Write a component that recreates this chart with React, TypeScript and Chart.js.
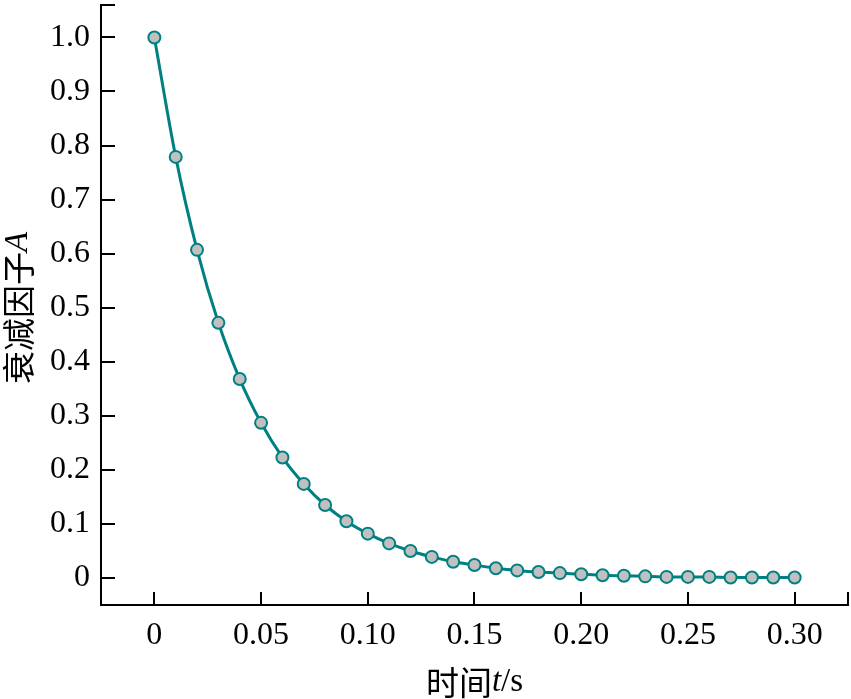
import React, { useEffect, useRef } from "react";
import { Chart, registerables } from "chart.js";

Chart.register(...registerables);

const timeValues = [
  0, 0.01, 0.02, 0.03, 0.04, 0.05, 0.06, 0.07, 0.08, 0.09, 0.1, 0.11, 0.12, 0.13, 0.14, 0.15,
  0.16, 0.17, 0.18, 0.19, 0.2, 0.21, 0.22, 0.23, 0.24, 0.25, 0.26, 0.27, 0.28, 0.29, 0.3,
];
const decayValues = [
  1.0, 0.779, 0.607, 0.472, 0.368, 0.287, 0.223, 0.174, 0.135, 0.105, 0.082, 0.064, 0.05, 0.039,
  0.03, 0.024, 0.018, 0.014, 0.011, 0.009, 0.007, 0.005, 0.004, 0.003, 0.002, 0.002, 0.002,
  0.001, 0.001, 0.001, 0.001,
];
const xTickValues = [0, 0.05, 0.1, 0.15, 0.2, 0.25, 0.3];
const xTickLabels = ["0", "0.05", "0.10", "0.15", "0.20", "0.25", "0.30"];
const yTickValues = [0, 0.1, 0.2, 0.3, 0.4, 0.5, 0.6, 0.7, 0.8, 0.9, 1.0];
const yTickLabels = ["0", "0.1", "0.2", "0.3", "0.4", "0.5", "0.6", "0.7", "0.8", "0.9", "1.0"];
const xTitleParts = [
  { text: "时间", italic: false, cjk: true },
  { text: "t", italic: true, cjk: false },
  { text: "/s", italic: false, cjk: false },
];
const yTitleParts = [
  { text: "衰减因子", italic: false, cjk: true },
  { text: "A", italic: true, cjk: false },
];

const SERIF = "'Liberation Serif', 'Times New Roman', serif";
const CJK = "'Noto Sans CJK SC', sans-serif";
const TEAL = "#008080";

function partFont(p: { italic: boolean; cjk: boolean }, size: number) {
  return `${p.italic ? "italic " : ""}${size}px ${p.cjk ? CJK : SERIF}`;
}

function drawParts(ctx: CanvasRenderingContext2D, parts: any[], size: number) {
  let total = 0;
  const widths = parts.map((p) => {
    ctx.font = partFont(p, size);
    const w = ctx.measureText(p.text).width;
    total += w;
    return w;
  });
  let x = -total / 2;
  parts.forEach((p, i) => {
    ctx.font = partFont(p, size);
    ctx.fillText(p.text, x, 0);
    x += widths[i];
  });
}

const axisDecor = {
  id: "axisDecor",
  afterDraw(chart: any) {
    const ctx = chart.ctx as CanvasRenderingContext2D;
    const xs = chart.scales.x;
    const ys = chart.scales.y;
    const area = chart.chartArea;
    ctx.save();
    ctx.strokeStyle = "#000";
    ctx.lineWidth = 2;
    ctx.beginPath();
    [...yTickValues, ys.max].forEach((v) => {
      const py = Math.round(ys.getPixelForValue(v));
      ctx.moveTo(area.left, py);
      ctx.lineTo(area.left + 14, py);
    });
    [...xTickValues, xs.max].forEach((v) => {
      const px = Math.round(xs.getPixelForValue(v));
      ctx.moveTo(px, area.bottom);
      ctx.lineTo(px, area.bottom - 13);
    });
    ctx.stroke();

    ctx.fillStyle = "#000";
    ctx.textBaseline = "middle";
    ctx.textAlign = "left";
    ctx.save();
    ctx.translate((area.left + area.right) / 2, 682);
    drawParts(ctx, xTitleParts, 33);
    ctx.restore();

    ctx.save();
    ctx.translate(18, 308);
    ctx.rotate(-Math.PI / 2);
    drawParts(ctx, yTitleParts, 33);
    ctx.restore();
    ctx.restore();
  },
};

export default function App() {
  const ref = useRef<HTMLCanvasElement | null>(null);
  useEffect(() => {
    document.body.style.margin = "0";
    const canvas = ref.current;
    if (!canvas) return;
    const points = timeValues.map((t, i) => ({ x: t, y: decayValues[i] }));
    const chart = new Chart(canvas, {
      type: "line",
      data: {
        datasets: [
          {
            data: points,
            borderColor: TEAL,
            borderWidth: 3,
            backgroundColor: "#c0c0c0",
            pointBackgroundColor: "#c0c0c0",
            pointBorderColor: TEAL,
            pointBorderWidth: 2,
            pointRadius: 6,
            cubicInterpolationMode: "monotone",
            fill: false,
          },
        ],
      },
      options: {
        animation: false,
        responsive: false,
        maintainAspectRatio: false,
        layout: { autoPadding: false, padding: { top: 5, right: 3, left: 0, bottom: 0 } },
        plugins: {
          legend: { display: false },
          tooltip: { enabled: false },
          title: { display: false },
        },
        scales: {
          x: {
            type: "linear",
            min: -0.025,
            max: 0.325,
            grid: { display: false, drawTicks: false },
            border: { display: true, color: "#000", width: 2 },
            afterBuildTicks: (scale: any) => {
              scale.ticks = xTickValues.map((v) => ({ value: v }));
            },
            afterFit: (scale: any) => {
              scale.height = 94;
              scale.paddingLeft = 0;
              scale.paddingRight = 0;
            },
            ticks: {
              padding: 11,
              color: "#000",
              font: { family: SERIF, size: 32 },
              maxRotation: 0,
              autoSkip: false,
              callback: (_v: any, i: number) => xTickLabels[i],
            },
          },
          y: {
            type: "linear",
            min: -0.05,
            max: 1.06,
            grid: { display: false, drawTicks: false },
            border: { display: true, color: "#000", width: 2 },
            afterBuildTicks: (scale: any) => {
              scale.ticks = yTickValues.map((v) => ({ value: v }));
            },
            afterFit: (scale: any) => {
              scale.width = 101;
              scale.paddingTop = 0;
              scale.paddingBottom = 0;
            },
            ticks: {
              padding: 11,
              color: "#000",
              font: { family: SERIF, size: 32 },
              autoSkip: false,
              callback: (_v: any, i: number) => yTickLabels[i],
            },
          },
        },
      },
      plugins: [axisDecor],
    } as any);
    return () => chart.destroy();
  }, []);
  return (
    <div style={{ position: "absolute", left: 0, top: 0, width: 851, height: 699 }}>
      <canvas ref={ref} width={851} height={699} style={{ width: 851, height: 699 }} />
    </div>
  );
}
